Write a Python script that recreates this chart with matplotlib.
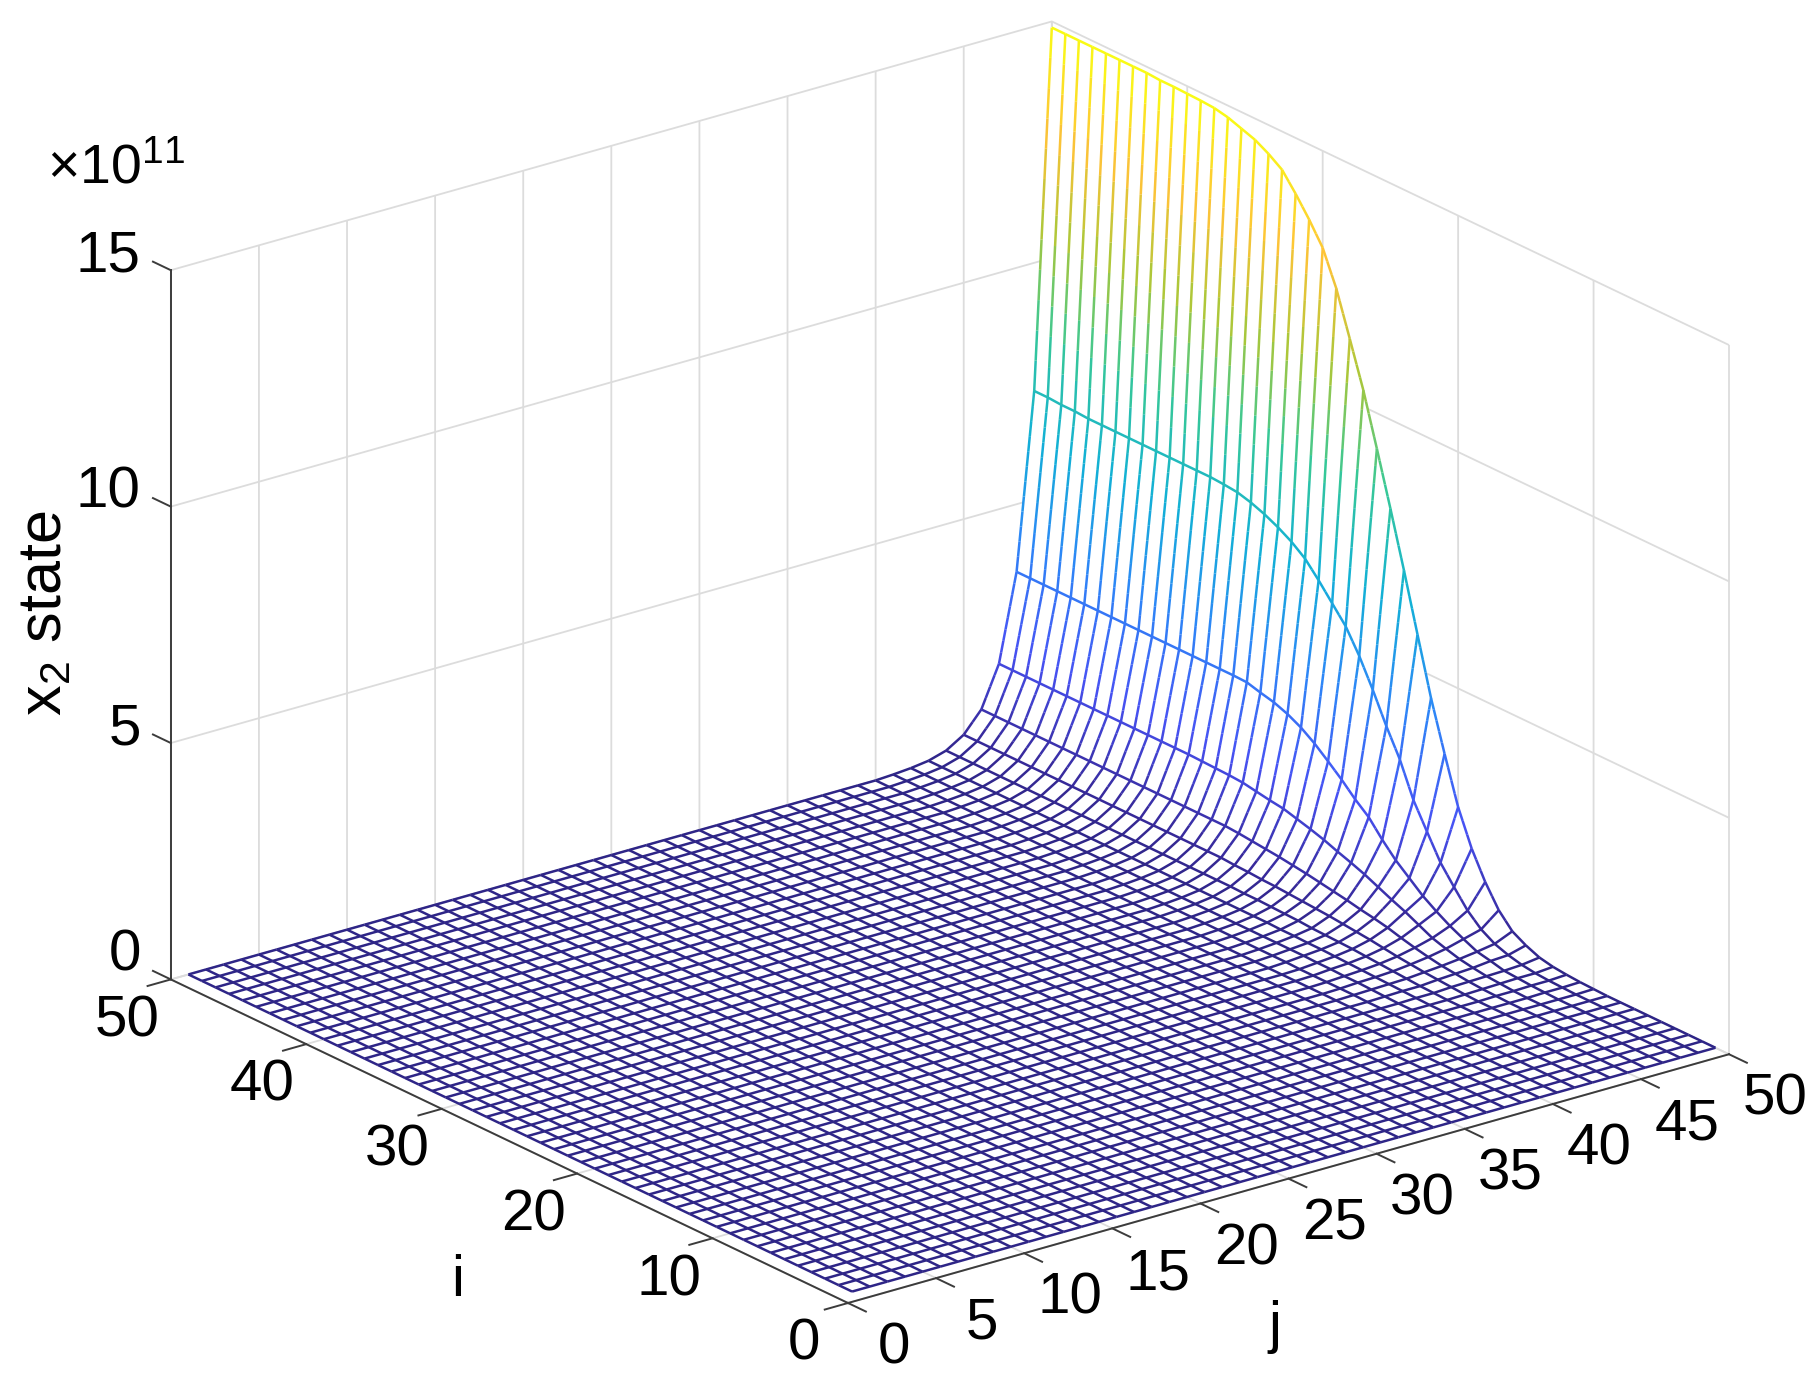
import numpy as np
import matplotlib
matplotlib.use('Agg')
import matplotlib.pyplot as plt
from matplotlib.colors import LinearSegmentedColormap
from mpl_toolkits.mplot3d import proj3d
from mpl_toolkits.mplot3d.art3d import Line3DCollection

plt.rcParams['font.family'] = ['Liberation Sans', 'DejaVu Sans']
plt.rcParams['mathtext.fontset'] = 'custom'
plt.rcParams['mathtext.rm'] = 'Liberation Sans'
plt.rcParams['mathtext.default'] = 'regular'

# Surface heights (x10^11). Each list runs i = 50 down to i = 1
row_j50 = [14.87]*8 + [14.85, 14.85, 14.84, 14.83, 14.81, 14.75, 14.65, 14.55, 14.39, 14.19, 13.82, 13.41,
           12.95, 12.23, 11.30, 10.35, 9.25, 8.12, 6.95, 5.73, 4.52, 3.48, 2.49, 1.75, 1.18, 0.72, 0.41, 0.25,
           0.13, 0.07, 0.04, 0.02, 0.01] + [0.0]*9
row_j49 = [7.29, 7.29, 7.27, 7.27] + [7.25]*10 + [7.23, 7.20, 7.12, 7.01, 6.87, 6.70, 6.48, 6.16, 5.81, 5.46,
           4.97, 4.39, 3.76, 3.19, 2.47, 1.94, 1.42, 1.04, 0.68, 0.42, 0.25, 0.15, 0.08, 0.04, 0.02, 0.01] + [0.0]*10
row_j48 = [3.57]*17 + [3.56, 3.48, 3.41, 3.30, 3.15, 2.95, 2.71, 2.46, 2.18, 1.94, 1.60, 1.30, 1.06, 0.82, 0.63,
           0.46, 0.32, 0.19, 0.13, 0.06, 0.04, 0.02, 0.01] + [0.0]*10
row_j47 = [1.73]*15 + [1.72, 1.71, 1.70, 1.68, 1.63, 1.58, 1.54, 1.46, 1.38, 1.29, 1.18, 1.08, 0.97, 0.84, 0.71,
           0.59, 0.45, 0.31, 0.22, 0.14, 0.09, 0.05, 0.03, 0.01] + [0.0]*11
row_j46 = [0.87]*19 + [0.85, 0.82, 0.79, 0.76, 0.72, 0.68, 0.63, 0.58, 0.53, 0.47, 0.42, 0.36, 0.28, 0.21, 0.15,
           0.10, 0.07, 0.04, 0.02, 0.01] + [0.0]*11
row_j45 = [0.44]*20 + [0.42, 0.41, 0.39, 0.38, 0.36, 0.34, 0.32, 0.30, 0.27, 0.24, 0.21, 0.17, 0.13, 0.10,
           0.07, 0.05, 0.03, 0.01] + [0.0]*12
row_j44 = [0.21]*22 + [0.20, 0.20, 0.19, 0.18, 0.17, 0.15, 0.14, 0.13, 0.12, 0.10, 0.08, 0.06, 0.04, 0.02, 0.01] + [0.0]*13
row_j43 = [0.10]*26 + [0.09, 0.09, 0.08, 0.08, 0.07, 0.06, 0.05, 0.04, 0.03, 0.02, 0.01] + [0.0]*13
row_j42 = [0.05]*30 + [0.04, 0.04, 0.03, 0.03, 0.02, 0.01] + [0.0]*14
row_j41 = [0.02]*30 + [0.01]*5 + [0.0]*15
row_low = [0.0]*50

j_ticks = [0, 5, 10, 15, 20, 25, 30, 35, 40, 45, 50]
i_ticks = [0, 10, 20, 30, 40, 50]
z_ticks = [0, 5, 10, 15]
parula = [(0, '#2e2587'), (0.03, '#37299a'), (1/7, '#4752f4'), (2/7, '#2d87f7'), (3/7, '#12b1d6'),
          (4/7, '#37c897'), (5/7, '#abc739'), (6/7, '#fec338'), (1, '#f9fb15')]

i_vals = np.arange(50, 0, -1)
j_vals = np.arange(1, 51)
Z = np.array([row_low]*40 + [row_j41, row_j42, row_j43, row_j44, row_j45, row_j46, row_j47, row_j48, row_j49, row_j50])
X, Y = np.meshgrid(j_vals, i_vals, indexing='xy')
Z = Z.T

W, H = 1818, 1378
fig = plt.figure(figsize=(W/100, H/100), dpi=100)
ax = fig.add_axes([0, 0, 1, 1], projection='3d', proj_type='ortho', computed_zorder=False)
ax.set_box_aspect((1112.5, 1112.4, 763.4))
ax.view_init(21.55, -127.55)
ax.set_xlim(0, 50, view_margin=0)
ax.set_ylim(0, 50, view_margin=0)
ax.set_zlim(0, 15, view_margin=0)

# White faces hide the back grid, like mesh() does
ax.plot_surface(X, Y, Z, color='white', shade=False, rstride=1, cstride=1, linewidth=0, edgecolor='none',
                antialiased=False, zorder=1)

# Mesh lines, cut into pieces so that the colour changes along a long edge
cmap = LinearSegmentedColormap.from_list('parula', parula)
segs, vals = [], []
def add_edge(p, q):
    n = int(min(12, 1 + abs(q[2] - p[2]) / 0.25))
    for t in range(n):
        a = p + (q - p) * t / n
        b = p + (q - p) * (t + 1) / n
        segs.append([a, b])
        vals.append((a[2] + b[2]) / 2)
for r in range(50):
    for c in range(50):
        p = np.array([X[r, c], Y[r, c], Z[r, c]])
        if c < 49:
            add_edge(p, np.array([X[r, c+1], Y[r, c+1], Z[r, c+1]]))
        if r < 49:
            add_edge(p, np.array([X[r+1, c], Y[r+1, c], Z[r+1, c]]))
colors = cmap(np.array(vals) / Z.max())
ax.add_collection3d(Line3DCollection(segs, colors=colors, linewidths=1.8, zorder=2))

# Axes
ax.set_xticks(j_ticks)
ax.set_yticks(i_ticks)
ax.set_zticks(z_ticks)
ax.set_xticklabels([])
ax.set_yticklabels([])
ax.set_zticklabels([])
for axis in (ax.xaxis, ax.yaxis, ax.zaxis):
    axis.set_pane_color((1, 1, 1, 0))
    axis.pane.set_edgecolor('none')
    axis.line.set_color('#3c3c3c')
    axis.line.set_linewidth(1.4)
    axis._axinfo['grid']['color'] = '#dcdcdc'
    axis._axinfo['grid']['linewidth'] = 1.3
    axis._axinfo['tick']['inward_factor'] = 0.33
    axis._axinfo['tick']['outward_factor'] = 0.0
    axis._axinfo['tick']['linewidth'] = {True: 1.4, False: 1.4}
    axis._axinfo['tick']['color'] = '#3c3c3c'
ax.tick_params(axis='both', colors='#3c3c3c')
# z ticks point along i in the original, up and to the left
ax.zaxis._get_tickdir = lambda pos: 1
ax.zaxis._axinfo['tick']['inward_factor'] = 0.0
ax.zaxis._axinfo['tick']['outward_factor'] = 0.33

# Fit the projected box onto the picture: corner (j=0, i=0) at pixel (848, 1303), width 881 up to j=50
def place(side, cx, cy):
    ax.set_position([(cx - side/2)/W, (cy - side/2)/H, side/W, side/H])
    ax.apply_aspect()

def corner(x, y, z):
    px, py, _ = proj3d.proj_transform(x, y, z, ax.get_proj())
    return ax.transData.transform((px, py))

side = 1378.0
place(side, W/2, H/2)
side = side * 881 / (corner(50, 0, 0)[0] - corner(0, 0, 0)[0])
place(side, W/2, H/2)
p0 = corner(0, 0, 0)
place(side, W/2 + 848 - p0[0], H/2 + (H - 1303) - p0[1])

# Tick labels, set apart from the axes the same way the original does
def tick_label(x, y, z, v, ha='center'):
    p = corner(x, y, z)
    fig.text(p[0]/W, p[1]/H, str(v), fontsize=42, ha=ha, va='center')

for v in j_ticks:
    tick_label(v, -3.4, -0.5, v)
for v in i_ticks:
    tick_label(-2.5, v, -0.62, v)
for v in z_ticks:
    tick_label(-1.7, 50, v + (0.69 if v == 0 else 0.475), v, ha='right')

fig.text(458/W, 1 - 1281/H, 'i', fontsize=42, ha='center', va='center')
fig.text(1275/W, 1 - 1327/H, 'j', fontsize=42, ha='center', va='center')
fig.text(46/W, 1 - 613/H, r'x$_2$ state', fontsize=44, rotation=90, ha='center', va='center')
fig.text(47/W, 1 - 183/H, r'×10$^{11}$', fontsize=40, ha='left', va='baseline')

fig.savefig('out.png', dpi=100)
